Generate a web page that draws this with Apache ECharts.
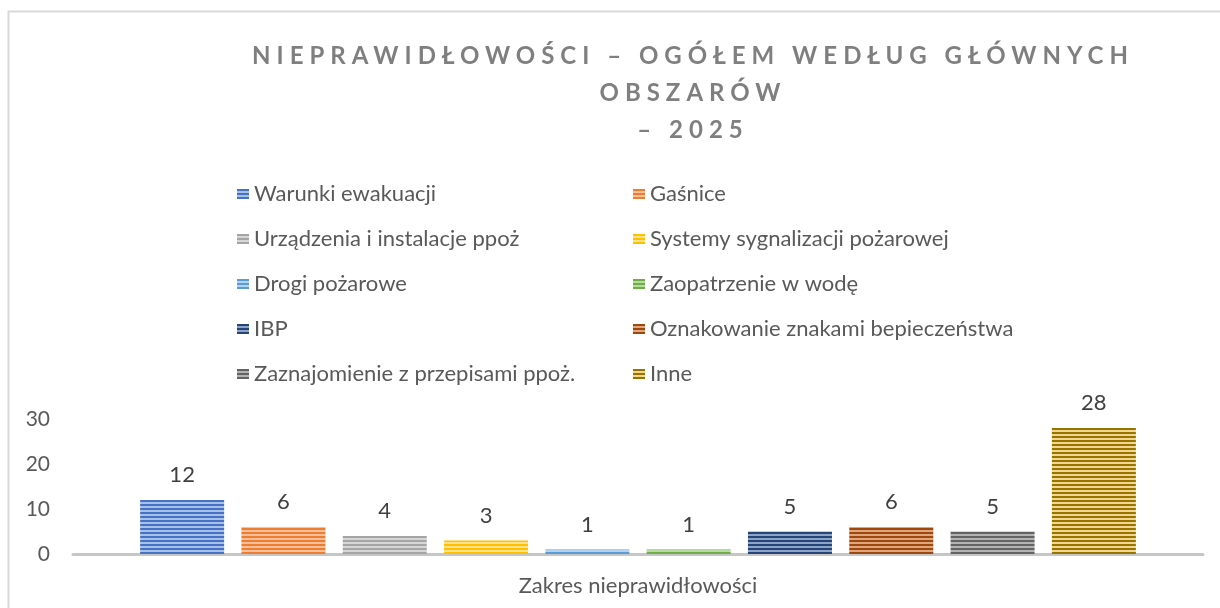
<!DOCTYPE html>
<html>
<head>
<meta charset="utf-8">
<script src="https://cdn.jsdelivr.net/npm/echarts@6/dist/echarts.min.js"></script>
<style>
html,body{margin:0;padding:0;background:#fff;}
#main{width:1220px;height:608px;}
</style>
</head>
<body>
<div id="main"></div>
<script>
const titleText = 'NIEPRAWIDŁOWOŚCI – OGÓŁEM WEDŁUG GŁÓWNYCH\nOBSZARÓW\n– 2025';
const category = ['Zakres nieprawidłowości'];
const seriesNames = [
  'Warunki ewakuacji', 'Gaśnice',
  'Urządzenia i instalacje ppoż', 'Systemy sygnalizacji pożarowej',
  'Drogi pożarowe', 'Zaopatrzenie w wodę',
  'IBP', 'Oznakowanie znakami bepieczeństwa',
  'Zaznajomienie z przepisami ppoż.', 'Inne'
];
const values = [12, 6, 4, 3, 1, 1, 5, 6, 5, 28];
const darkColors = ['#4472C4','#ED7D31','#A5A5A5','#FFC000','#5B9BD5','#70AD47','#264478','#9E480E','#636363','#997300'];
const lightColors = ['#a9c0ea','#f8c09a','#d6d6d6','#ffe28a','#b3d2ef','#b6dba0','#8ea3c8','#e0a67f','#b3b3b3','#f0d890'];

// letter spacing for the bold title only
(function(){
  const P = CanvasRenderingContext2D.prototype;
  const orig = P.fillText;
  P.fillText = function(t, x, y, m){
    if ('letterSpacing' in this) {
      this.letterSpacing = (this.font.indexOf('bold') >= 0) ? '6px' : '0px';
    }
    return m === undefined ? orig.call(this, t, x, y) : orig.call(this, t, x, y, m);
  };
})();

function stripe(dark, light){
  const c = document.createElement('canvas');
  c.width = 4; c.height = 4;
  const ctx = c.getContext('2d');
  ctx.fillStyle = dark; ctx.fillRect(0,0,4,2);
  ctx.fillStyle = light; ctx.fillRect(0,2,4,2);
  return {image: c, repeat: 'repeat'};
}

const FONT = 'Lato';
const chart = echarts.init(document.getElementById('main'), null, {renderer:'canvas'});

const series = seriesNames.map((n, i) => ({
  name: n,
  type: 'bar',
  data: [values[i]],
  barWidth: 84,
  barGap: '20.6%',
  itemStyle: { color: stripe(darkColors[i], lightColors[i]) },
  label: {
    show: true, position: 'top', distance: 14,
    color: '#404040', fontSize: 22, fontFamily: FONT
  }
}));

const legendBase = {
  orient: 'vertical',
  icon: 'rect',
  itemWidth: 12, itemHeight: 10,
  itemGap: 23,
  textStyle: { color: '#595959', fontSize: 22, fontFamily: FONT, lineHeight: 22 },
  selectedMode: false
};

chart.setOption({
  animation: false,
  backgroundColor: '#fff',
  title: {
    text: titleText,
    left: 688, top: 33, textAlign: 'center',
    textStyle: { color: '#7f7f7f', fontSize: 24, fontWeight: 'bold', fontFamily: FONT, lineHeight: 37 }
  },
  legend: [
    Object.assign({}, legendBase, { left: 232, top: 178, data: seriesNames.filter((_, i) => i % 2 === 0) }),
    Object.assign({}, legendBase, { left: 628, top: 178, data: seriesNames.filter((_, i) => i % 2 === 1) })
  ],
  grid: { left: 73, right: 17, top: 419, bottom: 54, containLabel: false },
  xAxis: {
    type: 'category',
    data: category,
    axisLine: { lineStyle: { color: '#c6c6c6', width: 3 } },
    axisTick: { show: false },
    axisLabel: { color: '#595959', fontSize: 22, fontFamily: FONT, margin: 21 }
  },
  yAxis: {
    type: 'value',
    min: 0, max: 30, interval: 10,
    axisLine: { show: false },
    axisTick: { show: false },
    splitLine: { show: false },
    axisLabel: { color: '#595959', fontSize: 21, fontFamily: FONT, margin: 23 }
  },
  graphic: [{
    type: 'rect',
    shape: { x: 8.5, y: 11.5, width: 1300, height: 700 },
    style: { fill: 'none', stroke: '#d9d9d9', lineWidth: 2 },
    silent: true, z: -1
  }],
  series: series
});
</script>
</body>
</html>
